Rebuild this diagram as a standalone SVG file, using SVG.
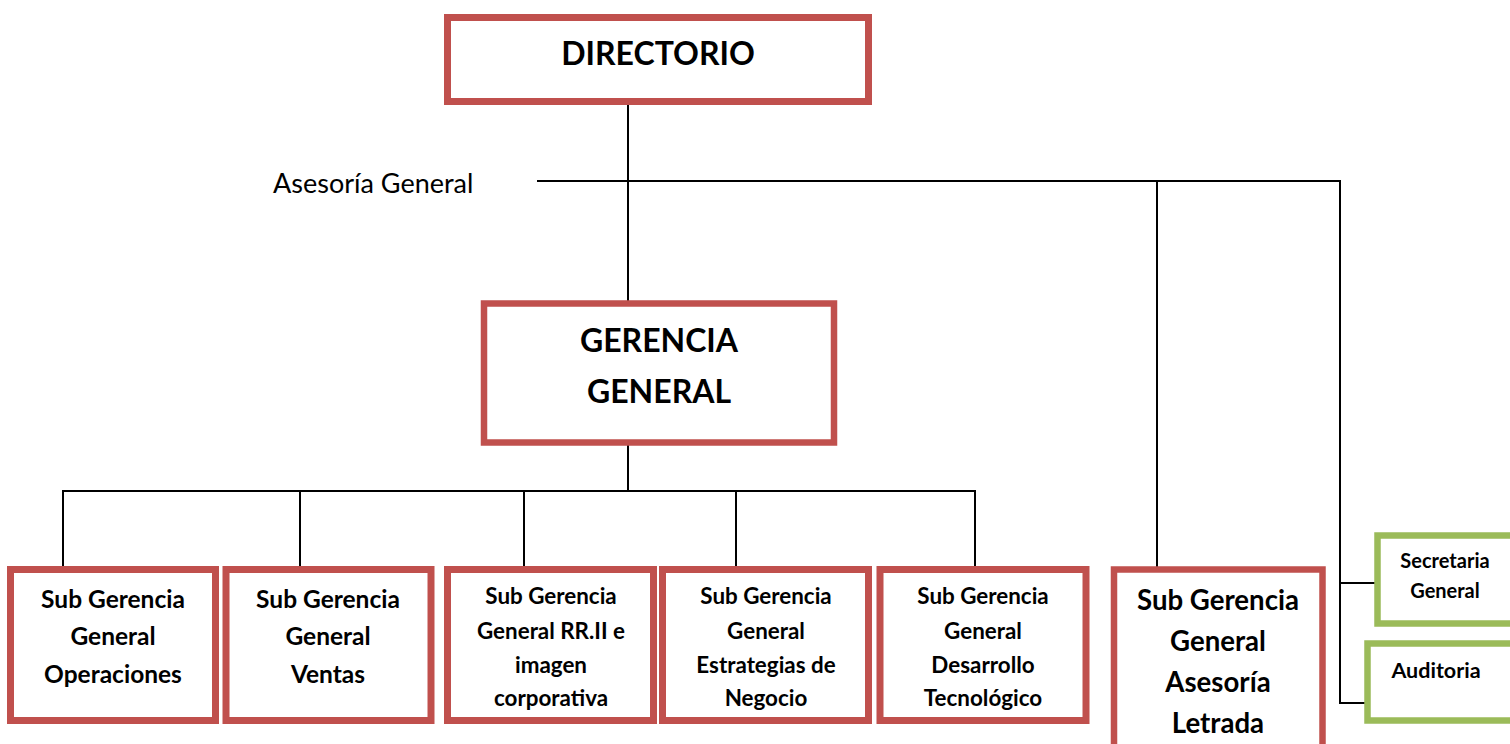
<svg xmlns="http://www.w3.org/2000/svg" width="1510" height="744" viewBox="0 0 1510 744">
<style>
.red{fill:#fff;stroke:#C0504D;stroke-width:7}
.grn{fill:#fff;stroke:#9BBB59;stroke-width:6.5}
.ln{fill:none;stroke:#000;stroke-width:2}
text{font-family:Lato,"Liberation Sans",sans-serif;font-weight:bold;fill:#000;text-anchor:middle}
.t1{font-size:32px}
.t2{font-size:32px}
.t3{font-size:24.5px}
.t4{font-size:22.4px}
.t5{font-size:27.6px}
.t6{font-size:20px}
.reg{font-weight:normal;font-size:27px;text-anchor:start}
</style>
<rect width="1510" height="744" fill="#fff"/>
<g id="connectors">
<line class="ln" x1="628" y1="104" x2="628" y2="301"/>
<line class="ln" x1="537" y1="181" x2="1341" y2="181"/>
<line class="ln" x1="1157" y1="181" x2="1157" y2="567"/>
<line class="ln" x1="1340" y1="180" x2="1340" y2="704"/>
<line class="ln" x1="1340" y1="583" x2="1376" y2="583"/>
<line class="ln" x1="1339" y1="703" x2="1366" y2="703"/>
<line class="ln" x1="628" y1="445" x2="628" y2="491"/>
<line class="ln" x1="62" y1="491" x2="976" y2="491"/>
<line class="ln" x1="63" y1="490" x2="63" y2="567"/>
<line class="ln" x1="300" y1="490" x2="300" y2="567"/>
<line class="ln" x1="524" y1="490" x2="524" y2="567"/>
<line class="ln" x1="736" y1="490" x2="736" y2="567"/>
<line class="ln" x1="975" y1="490" x2="975" y2="567"/>
</g>
<g id="asesoria-general">
<text class="reg" x="273" y="193">Asesoría General</text>
</g>
<g id="directorio">
<rect class="red" x="447.5" y="17.5" width="421" height="84"/>
<text class="t1" x="658" y="65">DIRECTORIO</text>
</g>
<g id="gerencia-general">
<rect class="red" x="484" y="303.5" width="350" height="139" style="stroke-width:6.5"/>
<text class="t2" x="659" y="352">GERENCIA</text>
<text class="t2" x="659" y="403">GENERAL</text>
</g>
<g id="sg-operaciones">
<rect class="red" x="10.5" y="569.5" width="205" height="151"/>
<text class="t3" x="113" y="608">Sub Gerencia</text>
<text class="t3" x="113" y="645">General</text>
<text class="t3" x="113" y="683">Operaciones</text>
</g>
<g id="sg-ventas">
<rect class="red" x="226" y="569.5" width="205" height="151"/>
<text class="t3" x="328" y="608">Sub Gerencia</text>
<text class="t3" x="328" y="645">General</text>
<text class="t3" x="328" y="683">Ventas</text>
</g>
<g id="sg-rrii">
<rect class="red" x="447.5" y="569.5" width="206" height="151"/>
<text class="t4" x="551" y="604">Sub Gerencia</text>
<text class="t4" x="551" y="639">General RR.II e</text>
<text class="t4" x="551" y="673">imagen</text>
<text class="t4" x="551" y="706">corporativa</text>
</g>
<g id="sg-estrategias">
<rect class="red" x="662.5" y="569.5" width="206" height="151"/>
<text class="t4" x="766" y="604">Sub Gerencia</text>
<text class="t4" x="766" y="639">General</text>
<text class="t4" x="766" y="673">Estrategias de</text>
<text class="t4" x="766" y="706">Negocio</text>
</g>
<g id="sg-desarrollo">
<rect class="red" x="880" y="569.5" width="206" height="151"/>
<text class="t4" x="983" y="604">Sub Gerencia</text>
<text class="t4" x="983" y="639">General</text>
<text class="t4" x="983" y="673">Desarrollo</text>
<text class="t4" x="983" y="706">Tecnológico</text>
</g>
<g id="sg-asesoria-letrada">
<rect class="red" x="1114" y="569.5" width="208.5" height="200" style="stroke-width:6.5"/>
<text class="t5" x="1218" y="610">Sub Gerencia</text>
<text class="t5" x="1218" y="651">General</text>
<text class="t5" x="1218" y="692">Asesoría</text>
<text class="t5" x="1218" y="733">Letrada</text>
</g>
<g id="secretaria-general">
<rect class="grn" x="1377.5" y="535.5" width="150" height="88"/>
<text class="t6" x="1445" y="568">Secretaria</text>
<text class="t6" x="1445" y="598">General</text>
</g>
<g id="auditoria">
<rect class="grn" x="1367.5" y="643.5" width="160" height="77"/>
<text class="t6" x="1436" y="678" style="font-size:21.5px">Auditoria</text>
</g>
</svg>
